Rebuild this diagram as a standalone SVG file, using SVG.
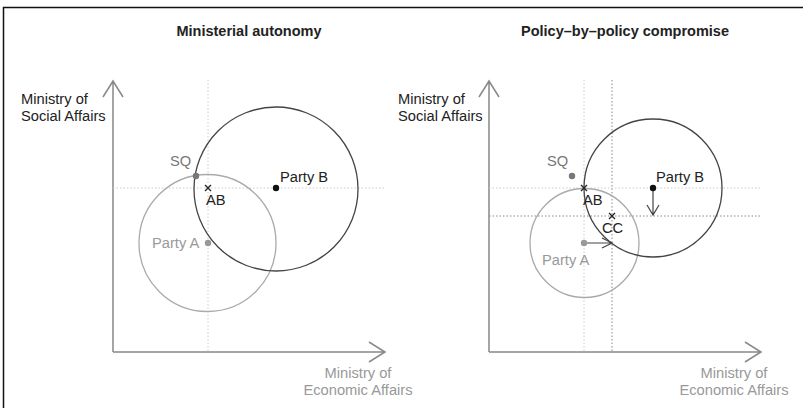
<svg xmlns="http://www.w3.org/2000/svg" width="803" height="408" viewBox="0 0 803 408">
<style>
text{font-family:"Liberation Sans",Arial,sans-serif;font-size:14.7px;fill:#222}
.title{font-weight:bold;text-anchor:middle;font-size:14.5px}
.grey{fill:#999}
.sq{fill:#777}
.mid{text-anchor:middle}
.axis{stroke:#888;stroke-width:1.5;fill:none}
.dotl{stroke:#ccc;stroke-width:1;stroke-dasharray:1.5 2;fill:none}
.dotd{stroke:#888;stroke-width:1;stroke-dasharray:1.5 2;fill:none}
.cb{stroke:#444;stroke-width:1.3;fill:none}
.ca{stroke:#aaa;stroke-width:1.3;fill:none}
.x{stroke:#222;stroke-width:1.3;fill:none}
.arr{stroke:#444;stroke-width:1.2;fill:none}
</style>
<rect width="803" height="408" fill="#fff"/>
<path d="M3.5,408 V7.5 H803" stroke="#111" stroke-width="1.5" fill="none"/>

<g id="left-panel">
<text class="title" x="249" y="36">Ministerial autonomy</text>
<g id="left-axes">
<path class="axis" d="M113,352 V81 M103,97 L113,81 L123,97"/>
<path class="axis" d="M113,352 H385 M369,342 L385,352 L369,362"/>
<text x="21" y="104">Ministry of</text>
<text x="21" y="121">Social Affairs</text>
<text class="grey mid" x="358" y="378">Ministry of</text>
<text class="grey mid" x="358" y="395">Economic Affairs</text>
</g>
<g id="left-guides">
<path class="dotl" d="M208,80 V352"/>
<path class="dotl" d="M113,188 H385"/>
</g>
<g id="left-circleA"><circle class="ca" cx="207.5" cy="243" r="68.5"/></g>
<g id="left-circleB"><circle class="cb" cx="276" cy="189" r="82"/></g>
<g id="left-partyB"><circle cx="276" cy="188" r="3.2" fill="#111"/><text x="280" y="182">Party B</text></g>
<g id="left-partyA"><circle cx="208" cy="243" r="3.2" fill="#999"/><text class="grey" x="152" y="248">Party A</text></g>
<g id="left-SQ"><circle cx="196" cy="176" r="3.2" fill="#777"/><text class="sq" x="170" y="166">SQ</text></g>
<g id="left-AB"><path class="x" d="M205,185 L211,191 M211,185 L205,191"/><text x="206" y="205">AB</text></g>
</g>

<g id="right-panel">
<text class="title" x="625" y="36">Policy–by–policy compromise</text>
<g id="right-axes">
<path class="axis" d="M489,352 V81 M479,97 L489,81 L499,97"/>
<path class="axis" d="M489,352 H761 M745,342 L761,352 L745,362"/>
<text x="398" y="104">Ministry of</text>
<text x="398" y="121">Social Affairs</text>
<text class="grey mid" x="734" y="378">Ministry of</text>
<text class="grey mid" x="734" y="395">Economic Affairs</text>
</g>
<g id="right-guides">
<path class="dotl" d="M584,80 V352"/>
<path class="dotd" d="M612,80 V352"/>
<path class="dotl" d="M489,188 H761"/>
<path class="dotd" d="M489,216 H761"/>
</g>
<g id="right-circleA"><circle class="ca" cx="584.5" cy="243" r="54.5"/></g>
<g id="right-circleB"><circle class="cb" cx="653" cy="188" r="69"/></g>
<g id="connectors">
<path class="arr" d="M584,243 H612 M602,238 L612,243 L602,248"/>
<path class="arr" d="M653,188 V215 M647,205 L653,215 L659,205"/>
</g>
<g id="right-partyB"><circle cx="653" cy="188" r="3.2" fill="#111"/><text x="656" y="182">Party B</text></g>
<g id="right-partyA"><circle cx="584" cy="243" r="3.2" fill="#999"/><text class="grey" x="542" y="265">Party A</text></g>
<g id="right-SQ"><circle cx="572" cy="176" r="3.2" fill="#777"/><text class="sq" x="547" y="166">SQ</text></g>
<g id="right-AB"><path class="x" d="M581,185 L587,191 M587,185 L581,191"/><text x="583" y="205">AB</text></g>
<g id="right-CC"><path class="x" d="M609,213 L615,219 M615,213 L609,219"/><text x="602" y="233">CC</text></g>
</g>
</svg>
